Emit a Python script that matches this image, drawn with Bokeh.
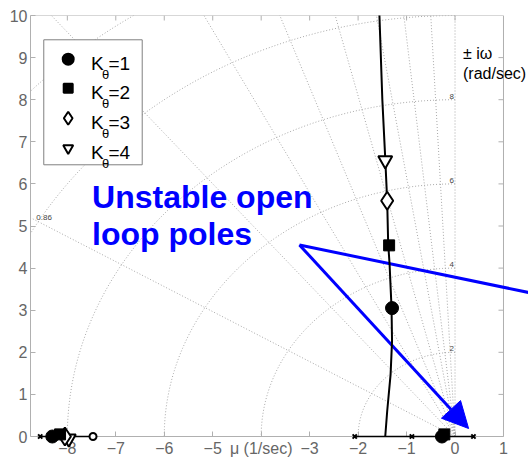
import numpy as np
from bokeh.plotting import figure
from bokeh.models import Range1d, Label, Arrow, NormalHead, FixedTicker
from bokeh.core.properties import value
from bokeh.embed import file_html
from bokeh.resources import INLINE

# ---------------- data ----------------
# main root-locus branch (mu [1/sec], omega [rad/sec])
locus_mu = [-1.44, -1.40, -1.33, -1.30, -1.31, -1.35, -1.38, -1.40, -1.44, -1.50, -1.56]
locus_omega = [0.0, 0.6, 1.47, 2.26, 3.05, 4.08, 4.6, 5.6, 6.6, 8.0, 10.0]
# real-axis segments
real_seg1 = [-2.07, 0.38]
real_seg2 = [-8.56, -7.47]
# open loop poles / zeros on the real axis
pole_mu = [-8.56, -2.07, -0.89, 0.38]
zero_mu = [-7.47]
# closed loop roots for each gain K_theta
k1_mu, k1_om = [-1.30, -0.27, -8.31], [3.05, 0.0, 0.0]
k2_mu, k2_om = [-1.36, -0.22, -8.15], [4.54, 0.05, 0.05]
k3_mu, k3_om = [-1.40, -8.05], [5.60, 0.0]
k4_mu, k4_om = [-1.44, -7.97], [6.56, -0.05]
# s-grid
grid_radii = [2, 4, 6, 8, 10, 12]
grid_zeta = [0.86, 0.64, 0.46, 0.34, 0.24, 0.16, 0.105, 0.05, 0.0]
radius_labels = ["2", "4", "6", "8"]
x_ticks = [-8, -7, -6, -5, -4, -3, -2, -1, 0, 1]
y_ticks = list(range(0, 11))

FONT = "Liberation Sans"
GRID_C = "#a8a8a8"
BOX_C = "#b0b0b0"
X0, X1, XR = -8.76, 1.0, 1.516   # axis box from X0 to X1, frame extends to XR
Y0, Y1 = 0.0, 10.0
YB = -26 / 42.1                   # frame extends below the axis line

p = figure(width=528, height=462, output_backend="svg", toolbar_location=None,
           x_range=Range1d(X0, XR), y_range=Range1d(YB, Y1),
           min_border_left=30, min_border_right=0, min_border_top=15, min_border_bottom=0,
           background_fill_color="white", border_fill_color="white")
p.outline_line_color = None
p.xgrid.visible = False
p.ygrid.visible = False

for ax in (p.xaxis[0], p.yaxis[0]):
    ax.axis_line_color = BOX_C
    ax.major_tick_line_color = BOX_C
    ax.major_tick_in = 5
    ax.major_tick_out = 0
    ax.minor_tick_line_color = None
    ax.major_label_text_font = FONT
    ax.major_label_text_font_size = "16px"
    ax.major_label_text_color = "#666666"
    ax.major_label_standoff = 3
p.xaxis.ticker = FixedTicker(ticks=x_ticks)
p.yaxis.ticker = FixedTicker(ticks=y_ticks)
p.xaxis.bounds = (X0, X1)
p.yaxis.bounds = (Y0, Y1)
p.xaxis.fixed_location = 0
p.xaxis.major_label_overrides = {-4: "μ (1/sec)"}

# box top and right side with inward ticks
p.line([X0, X1], [Y1, Y1], line_color=BOX_C, line_width=1)
p.line([X1, X1], [Y0, Y1], line_color=BOX_C, line_width=1)
tick_dx = 5 / 48.46
tick_dy = 5 / 42.1
inner_y = [t for t in y_ticks if Y0 < t < Y1]
inner_x = [t for t in x_ticks if X0 < t < X1]
p.segment(x0=[X1 - tick_dx] * len(inner_y), y0=inner_y, x1=[X1] * len(inner_y), y1=inner_y,
          line_color=BOX_C, line_width=1)
p.segment(x0=inner_x, y0=[Y1 - tick_dy] * len(inner_x), x1=inner_x, y1=[Y1] * len(inner_x),
          line_color=BOX_C, line_width=1)

# s-grid arcs and damping rays
for r in grid_radii:
    th = np.linspace(np.pi / 2, np.pi, 120)
    p.line(r * np.cos(th), r * np.sin(th), line_color=GRID_C, line_dash="1 2", line_width=1)
for z in grid_zeta:
    ang = np.arccos(z)
    R = 20
    p.line([0, -R * np.cos(ang)], [0, R * np.sin(ang)], line_color=GRID_C, line_dash="1 2", line_width=1)
for lab in radius_labels:
    p.text([-0.02], [float(lab) + 0.02], text=[lab], text_font=value(FONT), text_font_size="8px",
           text_color="#444444", text_align="right", text_baseline="bottom")
p.text([-8.64], [5.15], text=["0.86"], text_font=value(FONT), text_font_size="8px",
       text_color="#444444", text_align="left", text_baseline="bottom")

# loci (drawn above the axis line)
OV = "overlay"
p.line(locus_mu, locus_omega, line_color="black", line_width=2, level=OV)
p.line(real_seg1, [0, 0], line_color="black", line_width=1.5, level=OV)
p.line(real_seg2, [0, 0], line_color="black", line_width=1.5, level=OV)
p.scatter(pole_mu, [0] * len(pole_mu), marker="x", size=6, line_color="black", line_width=2, level=OV)
p.scatter(zero_mu, [0], marker="circle", size=7, fill_color="white", line_color="black", line_width=2, level=OV)

# gain markers
p.scatter(k4_mu, k4_om, marker="inverted_triangle", size=14, fill_color="white", line_color="black",
          line_width=2, level=OV)
p.scatter(k3_mu, k3_om, marker="diamond", size=18, fill_color="white", line_color="black",
          line_width=2, level=OV)
p.scatter(k2_mu, k2_om, marker="square", size=11, fill_color="black", line_color="black", level=OV)
p.scatter(k1_mu, k1_om, marker="circle", size=13, fill_color="black", line_color="black", level=OV)

# manual legend (K with subscript theta)
p.quad(left=[-8.486], right=[-6.455], bottom=[6.454], top=[9.423], fill_color="white",
       line_color="#808080", line_width=1)
leg_y = [8.962, 8.273, 7.561, 6.848]
leg_markers = [("circle", 11, "black"), ("square", 9, "black"),
               ("diamond", 13, "white"), ("inverted_triangle", 10, "white")]
leg_vals = ["=1", "=2", "=3", "=4"]
for yy, (mk, sz, fc), lv in zip(leg_y, leg_markers, leg_vals):
    p.scatter([-7.982], [yy], marker=mk, size=sz, fill_color=fc, line_color="black", line_width=2)
    p.text([-7.51], [yy - 0.095], text=["K"], text_font=value(FONT), text_font_size="19px",
           text_color="black", text_baseline="alphabetic")
    p.text([-7.285], [yy - 0.356], text=["θ"], text_font=value(FONT), text_font_size="13px",
           text_color="black", text_baseline="alphabetic")
    p.text([-7.15], [yy - 0.095], text=[lv], text_font=value(FONT), text_font_size="19px",
           text_color="black", text_baseline="alphabetic")

# annotation text
p.text([-7.49], [5.68], text=["Unstable open"], text_font=value(FONT), text_font_size="32px",
       text_font_style="bold", text_color="#0000ff", text_baseline="alphabetic")
p.text([-7.49], [4.82], text=["loop poles"], text_font=value(FONT), text_font_size="32px",
       text_font_style="bold", text_color="#0000ff", text_baseline="alphabetic")

# arrows
p.add_layout(Arrow(x_start=-3.21, y_start=4.55, x_end=1.52, y_end=3.42, end=None,
                   line_color="#0000ff", line_width=3))
p.add_layout(Arrow(x_start=-3.21, y_start=4.55, x_end=0.28, y_end=0.19,
                   end=NormalHead(size=26, fill_color="#0000ff", line_color="#0000ff"),
                   line_color="#0000ff", line_width=3))

# y-axis label placed in the corner
p.add_layout(Label(x=0.165, y=9.10, text="± iω", text_font=FONT, text_font_size="16px",
                   text_color="black", text_baseline="alphabetic"))
p.add_layout(Label(x=0.165, y=8.62, text="(rad/sec)", text_font=FONT, text_font_size="16px",
                   text_color="black", text_baseline="alphabetic"))

open("out.html", "w").write(file_html(p, INLINE))
